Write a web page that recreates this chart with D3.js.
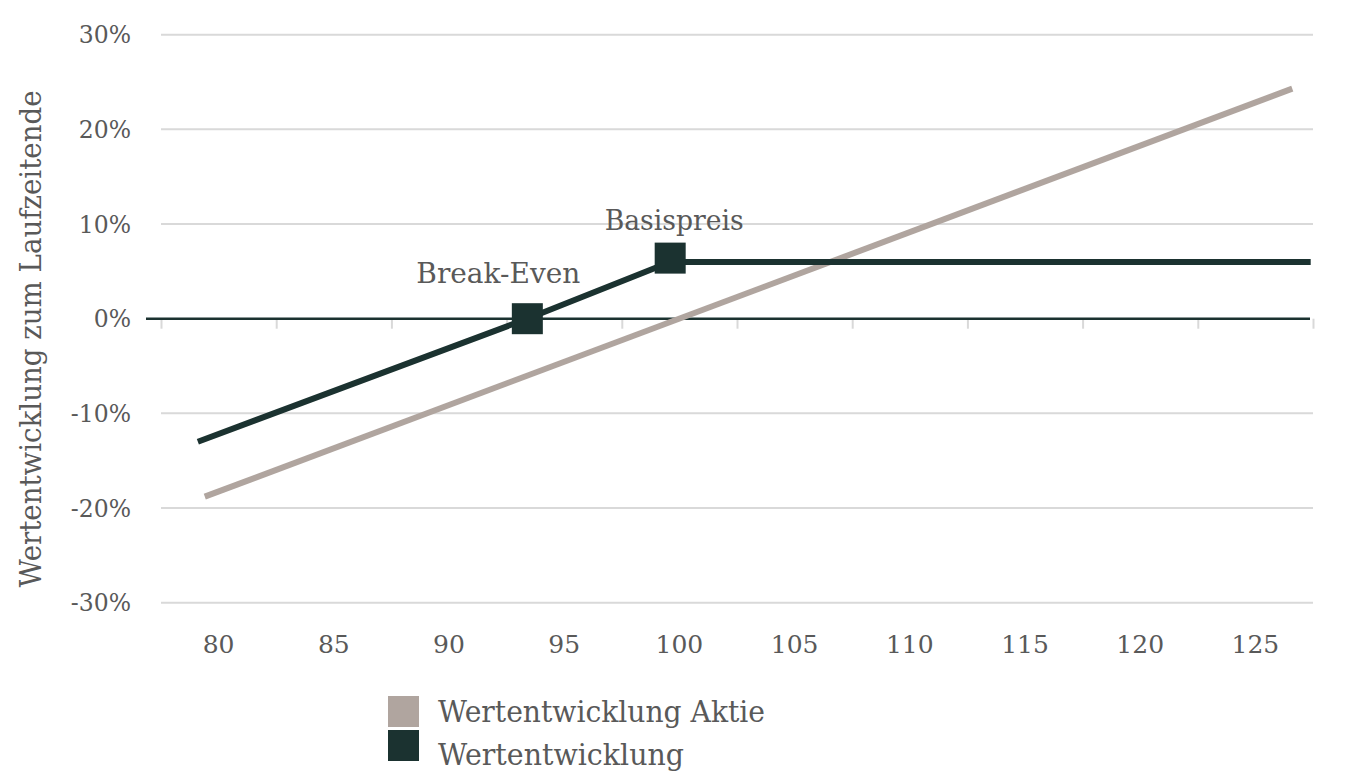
<!DOCTYPE html>
<html>
<head>
<meta charset="utf-8">
<script src="https://cdn.jsdelivr.net/npm/d3@7"></script>
<style>
  body { margin: 0; background: #fff; }
  svg text { font-family: "DejaVu Serif", serif; fill: #595959; }
</style>
</head>
<body>
<svg id="chart" width="1353" height="776"></svg>
<script>
// x axis labels (Kurs in % vom Startwert) and y ticks (%)
const xLabels = [80, 85, 90, 95, 100, 105, 110, 115, 120, 125];
const yTicks = [-30, -20, -10, 0, 10, 20, 30];

// Wertentwicklung Aktie
const aktieX = [79.4, 126.6];
const aktieY = [-18.8, 24.3];

// Wertentwicklung (Produkt)
const produktX = [79.1, 93.4, 99.6, 127.4];
const produktY = [-13.0, 0, 6.0, 6.0];

// markierte Punkte
const markerNames = ["Break-Even", "Basispreis"];
const markerX = [93.4, 99.6];
const markerY = [0, 6.4];

const legendNames = ["Wertentwicklung Aktie", "Wertentwicklung"];

const colAktie = "#b0a59f";
const colProdukt = "#1b3230";
const colGrid = "#d9d9d9";

const svg = d3.select("#chart");

const x = d3.scaleLinear().domain([77.5, 127.5]).range([161, 1313]);
const y = d3.scaleLinear().domain([-30, 30]).range([602.7, 34.7]);

// gridlines
svg.append("g")
  .selectAll("line")
  .data(yTicks.filter(d => d !== 0))
  .join("line")
  .attr("x1", x(77.5)).attr("x2", x(127.5))
  .attr("y1", d => y(d)).attr("y2", d => y(d))
  .attr("stroke", colGrid)
  .attr("stroke-width", 2);

// y labels
svg.append("g")
  .selectAll("text")
  .data(yTicks)
  .join("text")
  .attr("x", 131)
  .attr("y", d => y(d) + 8.5)
  .attr("text-anchor", "end")
  .attr("font-size", 23.5)
  .text(d => d + "%");

// x axis on zero line: tick marks between the labels
const xAxis = d3.axisBottom(x)
  .tickValues(d3.range(77.5, 128, 5))
  .tickSize(10)
  .tickFormat("");
const gx = svg.append("g")
  .attr("transform", `translate(0,${y(0)})`)
  .call(xAxis);
gx.select(".domain").remove();
gx.selectAll(".tick line").attr("stroke", colGrid).attr("stroke-width", 2);

svg.append("line")
  .attr("x1", 146).attr("x2", 1310)
  .attr("y1", y(0)).attr("y2", y(0))
  .attr("stroke", colProdukt)
  .attr("stroke-width", 2.5);

svg.append("g")
  .selectAll("text")
  .data(xLabels)
  .join("text")
  .attr("x", d => x(d))
  .attr("y", 653)
  .attr("text-anchor", "middle")
  .attr("font-size", 25)
  .text(d => d);

// y axis title
svg.append("text")
  .attr("transform", `translate(41,${(90 + 588) / 2}) rotate(-90)`)
  .attr("text-anchor", "middle")
  .attr("font-size", 29)
  .attr("textLength", 497)
  .attr("lengthAdjust", "spacingAndGlyphs")
  .text("Wertentwicklung zum Laufzeitende");

// lines
const line = d3.line().x(d => x(d[0])).y(d => y(d[1]));

svg.append("path")
  .datum(d3.zip(aktieX, aktieY))
  .attr("d", line)
  .attr("fill", "none")
  .attr("stroke", colAktie)
  .attr("stroke-width", 6);

svg.append("path")
  .datum(d3.zip(produktX, produktY))
  .attr("d", line)
  .attr("fill", "none")
  .attr("stroke", colProdukt)
  .attr("stroke-width", 6);

// markers
const markers = d3.zip(markerNames, markerX, markerY);
svg.append("g")
  .selectAll("rect")
  .data(markers)
  .join("rect")
  .attr("x", d => x(d[1]) - 15.5)
  .attr("y", d => y(d[2]) - 15.5)
  .attr("width", 31)
  .attr("height", 31)
  .attr("fill", colProdukt);

svg.append("g")
  .selectAll("text")
  .data(markers)
  .join("text")
  .attr("x", (d, i) => i === 0 ? x(d[1]) - 29 : x(d[1]) + 4)
  .attr("y", (d, i) => i === 0 ? y(d[2]) - 36 : y(d[2]) - 28)
  .attr("text-anchor", "middle")
  .attr("font-size", 28)
  .attr("textLength", (d, i) => i === 0 ? 164 : 139)
  .attr("lengthAdjust", "spacingAndGlyphs")
  .text(d => d[0]);

// legend
const legend = svg.append("g").attr("transform", "translate(388,696)");
legend.selectAll("rect")
  .data(legendNames)
  .join("rect")
  .attr("x", 0)
  .attr("y", (d, i) => i * 34)
  .attr("width", 31)
  .attr("height", 31)
  .attr("fill", (d, i) => i === 0 ? colAktie : colProdukt);

legend.selectAll("text")
  .data(legendNames)
  .join("text")
  .attr("x", 50)
  .attr("y", (d, i) => 26 + i * 43)
  .attr("font-size", 30)
  .attr("textLength", (d, i) => i === 0 ? 327 : 246)
  .attr("lengthAdjust", "spacingAndGlyphs")
  .text(d => d);
</script>
</body>
</html>
